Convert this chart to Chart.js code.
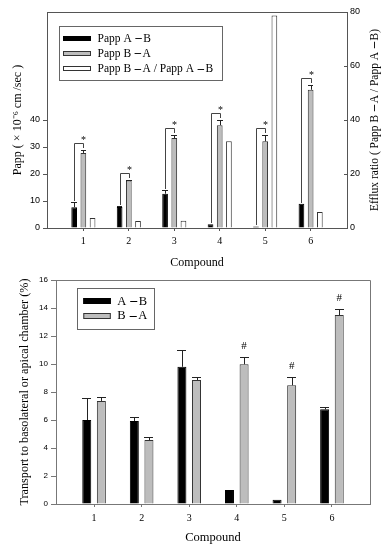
<!DOCTYPE html>
<html><head><meta charset="utf-8">
<script src="https://cdn.jsdelivr.net/npm/chart.js"></script>
<style>html,body{margin:0;padding:0;background:#fff;} canvas{position:absolute;left:0;}</style>
</head><body>
<canvas id="c1" width="387" height="270" style="top:0"></canvas>
<canvas id="c2" width="387" height="280" style="top:270px"></canvas>
<script>
// ---------- data ----------
const compounds = [1, 2, 3, 4, 5, 6];
const pappAB = [7.7, 7.8, 12.7, 1.35, 0.6, 9.0];
const pappABErr = [2.0, 0.3, 1.3, 0, 0, 0];
const pappBA = [27.8, 17.6, 33.3, 38.1, 32.1, 51.2];
const pappBAErr = [1.2, 0.3, 1.2, 1.8, 2.3, 1.6];
const effluxRatio = [3.7, 2.6, 2.7, 32.1, 78.7, 5.9];
const sigTop = ['*', '*', '*', '*', '*', '*'];
const topLeftTicks = [0, 10, 20, 30, 40];
const topRightTicks = [0, 20, 40, 60, 80];

const transAB = [6.0, 5.93, 9.8, 1.0, 0.3, 6.76];
const transABErr = [1.6, 0.3, 1.2, 0, 0, 0.15];
const transBA = [7.36, 4.57, 8.86, 9.98, 8.48, 13.5];
const transBAErr = [0.3, 0.2, 0.2, 0.5, 0.57, 0.43];
const sigBottom = ['', '', '', '#', '#', '#'];
const bottomTicks = [0, 2, 4, 6, 8, 10, 12, 14, 16];

const labelsTop = ['Papp A\u2009－B', 'Papp B\u2009－A', 'Papp B\u2009－A / Papp A\u2009－B'];
const labelsBottom = ['A\u2009－B', 'B\u2009－A'];
const titleRightTop = 'Efflux ratio ( Papp B\u2009－A / Papp A\u2009－B)';

// ---------- styles ----------
const SERIF = '"Liberation Serif","Times New Roman",serif';
const SANS = '"Liberation Sans",Arial,sans-serif';
const CJK = '"Noto Sans CJK SC"';
const AXIS = '#555';
const GREY = '#bdbdbd';
const EDGE = '#333';

function pts(vals) { return vals.map((v, i) => ({x: compounds[i], y: v})); }
function px(v) { return Math.round(v) + 0.5; }

// draws text, rendering the full-width dash in a bold CJK face
function richText(ctx, text, x, y, size, align) {
  const parts = text.split(/(－)/).filter(s => s.length);
  const fontFor = s => s === '－' ? ('bold ' + (size * 0.8) + 'px ' + CJK) : (size + 'px ' + SERIF);
  let total = 0;
  parts.forEach(s => { ctx.font = fontFor(s); total += ctx.measureText(s).width; });
  let cx = align === 'center' ? x - total / 2 : x;
  ctx.textAlign = 'left';
  parts.forEach(s => { ctx.font = fontFor(s); ctx.fillText(s, cx, y); cx += ctx.measureText(s).width; });
}

function errorBars(ctx, meta, yScale, vals, errs) {
  meta.data.forEach((bar, i) => {
    const e = errs[i];
    if (!e) return;
    const yTop = yScale.getPixelForValue(vals[i] + e);
    const x = px(bar.x);
    const w = bar.width / 2;
    ctx.beginPath();
    ctx.moveTo(x, bar.y);
    ctx.lineTo(x, px(yTop));
    ctx.moveTo(Math.round(bar.x - w), px(yTop));
    ctx.lineTo(Math.round(bar.x + w), px(yTop));
    ctx.stroke();
  });
}

function drawLegend(ctx, box, rows, items, size) {
  ctx.save();
  ctx.fillStyle = '#fff';
  ctx.fillRect(box.x, box.y, box.w, box.h);
  ctx.strokeStyle = '#666';
  ctx.lineWidth = 1;
  ctx.strokeRect(px(box.x), px(box.y), Math.round(box.w), Math.round(box.h));
  ctx.textBaseline = 'middle';
  items.forEach((it, i) => {
    const y = rows.y0 + i * rows.dy;
    ctx.fillStyle = it.fill;
    ctx.fillRect(rows.sx, Math.round(y - rows.sh / 2), rows.sw, rows.sh);
    ctx.strokeStyle = it.edge;
    ctx.strokeRect(rows.sx + 0.5, Math.round(y - rows.sh / 2) + 0.5, rows.sw - 1, rows.sh - 1);
    ctx.fillStyle = '#000';
    richText(ctx, it.text, rows.tx, y + 0.5, size, 'left');
  });
  ctx.restore();
}

// ---------- top chart ----------
const topExtras = {
  id: 'topExtras',
  afterDatasetsDraw(chart) {
    const ctx = chart.ctx, ca = chart.chartArea, y = chart.scales.y;
    const mA = chart.getDatasetMeta(0), mB = chart.getDatasetMeta(1);
    ctx.save();
    ctx.strokeStyle = AXIS; ctx.lineWidth = 1;
    ctx.beginPath(); ctx.moveTo(ca.left, px(ca.top)); ctx.lineTo(ca.right, px(ca.top)); ctx.stroke();
    ctx.strokeStyle = '#222';
    errorBars(ctx, mA, y, pappAB, pappABErr);
    errorBars(ctx, mB, y, pappBA, pappBAErr);
    ctx.strokeStyle = '#444';
    ctx.fillStyle = '#000';
    ctx.font = '10px ' + SERIF;
    ctx.textAlign = 'center';
    ctx.textBaseline = 'alphabetic';
    compounds.forEach((c, i) => {
      if (!sigTop[i]) return;
      const xa = px(mA.data[i].x), xb = px(mB.data[i].x);
      const ya = y.getPixelForValue(pappAB[i] + pappABErr[i]) - 1;
      const yb0 = y.getPixelForValue(pappBA[i] + pappBAErr[i]);
      const yb = px(yb0 - 7);
      ctx.beginPath();
      ctx.moveTo(xa, Math.round(ya));
      ctx.lineTo(xa, yb);
      ctx.lineTo(xb, yb);
      ctx.lineTo(xb, Math.round(yb0 - 2));
      ctx.stroke();
      ctx.fillText(sigTop[i], xb, yb - 1);
    });
    ctx.save();
    ctx.translate(375, (ca.top + ca.bottom) / 2);
    ctx.rotate(-Math.PI / 2);
    ctx.textBaseline = 'middle';
    richText(ctx, titleRightTop, 0, 0, 11.5, 'center');
    ctx.restore();
    drawLegend(ctx, {x: ca.left + 12, y: ca.top + 13.5, w: 162.5, h: 54},
      {y0: ca.top + 26, dy: 15.3, sx: ca.left + 16, sw: 28, sh: 5, tx: ca.left + 50.5},
      [{fill: '#000', edge: '#000', text: labelsTop[0]},
       {fill: GREY, edge: EDGE, text: labelsTop[1]},
       {fill: '#fff', edge: EDGE, text: labelsTop[2]}],
      11.5);
    ctx.restore();
  }
};

new Chart(document.getElementById('c1'), {
  type: 'bar',
  data: {
    datasets: [
      {label: labelsTop[0], data: pts(pappAB), backgroundColor: '#000', borderColor: '#000', borderWidth: 1, yAxisID: 'y'},
      {label: labelsTop[1], data: pts(pappBA), backgroundColor: GREY, borderColor: EDGE, borderWidth: 1, yAxisID: 'y'},
      {label: labelsTop[2], data: pts(effluxRatio), backgroundColor: '#fff', borderColor: EDGE, borderWidth: 1, yAxisID: 'y2'}
    ]
  },
  options: {
    responsive: false, animation: false,
    categoryPercentage: 0.607, barPercentage: 0.62,
    layout: {padding: {top: 12, left: 0, right: 0, bottom: 0}},
    plugins: {legend: {display: false}, tooltip: {enabled: false}},
    scales: {
      x: {
        type: 'linear', min: 0.2, max: 6.8, offset: false,
        afterBuildTicks: s => { s.ticks = compounds.map(v => ({value: v})); },
        afterFit: s => { s.height = 42; },
        grid: {drawOnChartArea: false, tickLength: 3, color: AXIS, offset: false},
        border: {color: AXIS},
        ticks: {font: {family: SERIF, size: 10}, color: '#000', padding: 4, callback: v => String(v)},
        title: {display: true, text: 'Compound', font: {family: SERIF, size: 12}, color: '#000', padding: {top: 0, bottom: 0}}
      },
      y: {
        position: 'left', min: 0, max: 80,
        afterBuildTicks: s => { s.ticks = topLeftTicks.map(v => ({value: v})); },
        afterFit: s => { s.width = 47; },
        grid: {drawOnChartArea: false, tickLength: 4, color: AXIS},
        border: {color: AXIS},
        ticks: {font: {family: SANS, size: 9}, color: '#000', padding: 3},
        title: {display: true, text: 'Papp ( × 10⁻⁶ cm /sec )', font: {family: SERIF, size: 12}, color: '#000', padding: {top: 11, bottom: 0}}
      },
      y2: {
        position: 'right', min: 0, max: 80,
        afterBuildTicks: s => { s.ticks = topRightTicks.map(v => ({value: v})); },
        afterFit: s => { s.width = 40; },
        grid: {drawOnChartArea: false, tickLength: -3, color: AXIS},
        border: {color: AXIS},
        ticks: {font: {family: SANS, size: 9}, color: '#000', padding: 6}
      }
    }
  },
  plugins: [topExtras]
});

// ---------- bottom chart ----------
const bottomExtras = {
  id: 'bottomExtras',
  afterDatasetsDraw(chart) {
    const ctx = chart.ctx, ca = chart.chartArea, y = chart.scales.y;
    const mA = chart.getDatasetMeta(0), mB = chart.getDatasetMeta(1);
    ctx.save();
    ctx.strokeStyle = '#777'; ctx.lineWidth = 1;
    ctx.beginPath();
    ctx.moveTo(ca.left, px(ca.top)); ctx.lineTo(px(ca.right), px(ca.top)); ctx.lineTo(px(ca.right), ca.bottom);
    ctx.stroke();
    ctx.strokeStyle = '#222';
    errorBars(ctx, mA, y, transAB, transABErr);
    errorBars(ctx, mB, y, transBA, transBAErr);
    ctx.fillStyle = '#000';
    ctx.font = '11px ' + SERIF;
    ctx.textAlign = 'center';
    ctx.textBaseline = 'alphabetic';
    compounds.forEach((c, i) => {
      if (!sigBottom[i]) return;
      const yt = y.getPixelForValue(transBA[i] + transBAErr[i]);
      ctx.fillText(sigBottom[i], mB.data[i].x, yt - 8);
    });
    drawLegend(ctx, {x: ca.left + 20.7, y: ca.top + 8.3, w: 77.3, h: 41},
      {y0: ca.top + 21, dy: 14.7, sx: ca.left + 27.3, sw: 27.5, sh: 6, tx: ca.left + 61.3},
      [{fill: '#000', edge: '#000', text: labelsBottom[0]},
       {fill: GREY, edge: EDGE, text: labelsBottom[1]}],
      12.5);
    ctx.restore();
  }
};

new Chart(document.getElementById('c2'), {
  type: 'bar',
  data: {
    datasets: [
      {label: labelsBottom[0], data: pts(transAB), backgroundColor: '#000', borderColor: '#000', borderWidth: 1},
      {label: labelsBottom[1], data: pts(transBA), backgroundColor: GREY, borderColor: EDGE, borderWidth: 1}
    ]
  },
  options: {
    responsive: false, animation: false,
    categoryPercentage: 0.614, barPercentage: 0.616,
    layout: {padding: {top: 10, left: 0, right: 17, bottom: 0}},
    plugins: {legend: {display: false}, tooltip: {enabled: false}},
    scales: {
      x: {
        type: 'linear', min: 0.2, max: 6.8, offset: false,
        afterBuildTicks: s => { s.ticks = compounds.map(v => ({value: v})); },
        afterFit: s => { s.height = 46; },
        grid: {drawOnChartArea: false, tickLength: 3, color: '#777', offset: false},
        border: {color: '#777'},
        ticks: {font: {family: SERIF, size: 10}, color: '#000', padding: 5, callback: v => String(v)},
        title: {display: true, text: 'Compound', font: {family: SERIF, size: 12.5}, color: '#000', padding: {top: 0, bottom: 4.5}}
      },
      y: {
        position: 'left', min: 0, max: 16,
        afterBuildTicks: s => { s.ticks = bottomTicks.map(v => ({value: v})); },
        afterFit: s => { s.width = 56; },
        grid: {drawOnChartArea: false, tickLength: 5, color: '#777'},
        border: {color: '#777'},
        ticks: {font: {family: SANS, size: 8}, color: '#000', padding: 3},
        title: {display: true, text: 'Transport to basolateral or apical chamber (%)', font: {family: SERIF, size: 12.2}, color: '#000', padding: {top: 17.7, bottom: 0}}
      }
    }
  },
  plugins: [bottomExtras]
});
</script>
</body></html>
